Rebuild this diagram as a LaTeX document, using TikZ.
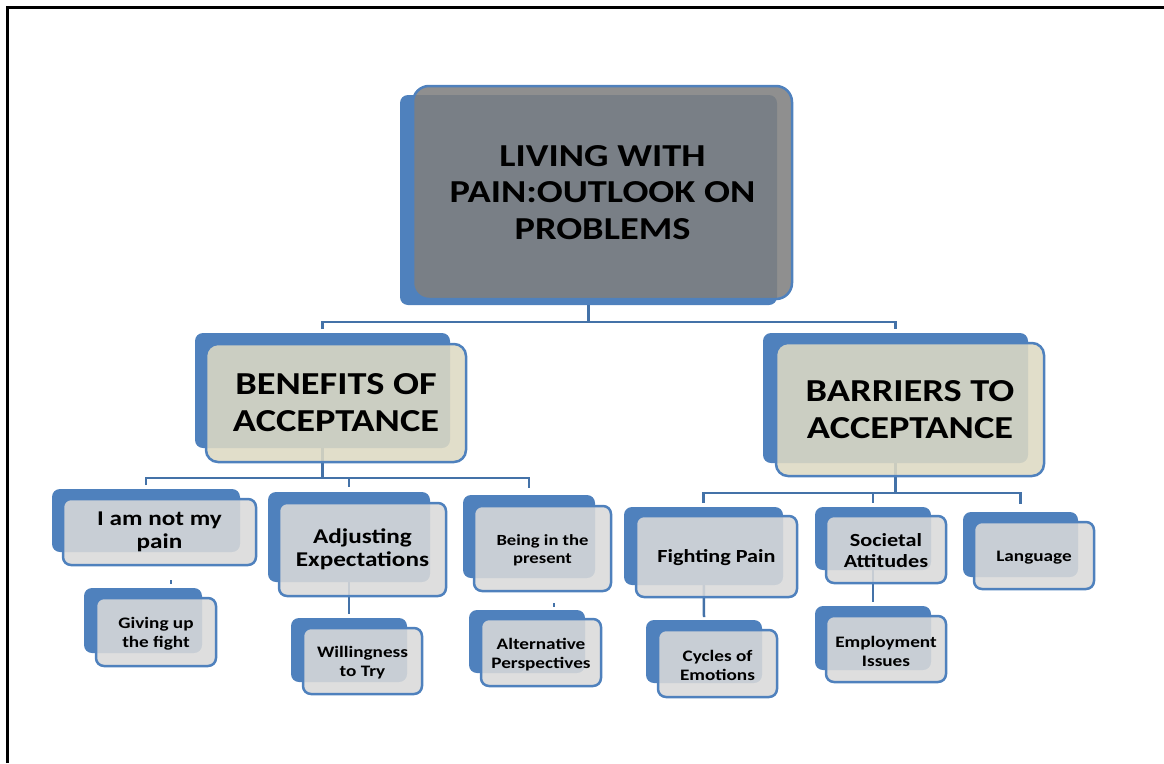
\documentclass[tikz,border=0pt]{standalone}
\usepackage{fontspec}
\setmainfont{Carlito}[FakeStretch=1.2]
\usetikzlibrary{fit}
\pgfdeclarelayer{background}
\pgfsetlayers{background,main}
\definecolor{boxblue}{HTML}{4F81BD}
\definecolor{linkblue}{HTML}{4472A8}
\definecolor{topgray}{HTML}{7F7F7F}
\definecolor{tanfill}{HTML}{DDD9C3}
\definecolor{lgray}{HTML}{D9D9D9}
\newcommand\dualbox[6]{%
  \node[back, fit={#2}] (#1B) {};
  \node[#4, fit={#3}] (#1) {};
  \node[#5] (#1T) at (#1.center) {#6};
}
\begin{document}
\begin{tikzpicture}[x=1pt,y=-1pt,
  back/.style={fill=boxblue, draw=none, inner sep=0pt, outer sep=0pt, rounded corners=8pt},
  front/.style={draw=boxblue, line width=2.5pt, fill opacity=0.88,
    inner sep=0pt, outer sep=0pt, rounded corners=8pt},
  topbox/.style={front, fill=topgray, rounded corners=16pt},
  catbox/.style={front, fill=tanfill, rounded corners=12pt},
  lbox/.style={front, fill=lgray},
  lbl/.style={align=center, text=black, inner sep=0pt},
  toptext/.style={lbl, font=\bfseries\fontsize{32}{36.5}\selectfont},
  cattext/.style={lbl, font=\bfseries\fontsize{32}{37}\selectfont},
  midtext/.style={lbl, font=\bfseries\fontsize{21}{23.5}\selectfont},
  medtext/.style={lbl, yshift=-1pt, font=\bfseries\fontsize{18.5}{21}\selectfont},
  smalltext/.style={lbl, yshift=-2pt, font=\bfseries\fontsize{16}{19}\selectfont},
  tinytext/.style={lbl, yshift=-2pt, font=\bfseries\fontsize{15.5}{18}\selectfont},
  conn/.style={draw=linkblue, line width=2.5pt},
  frame/.style={draw=black, line width=3pt}
]
\useasboundingbox (0,0) rectangle (1164,763);
\draw[frame] (7.5,763) -- (7.5,7.5) -- (1164,7.5);

% top
\dualbox{main}{(400,95) (777,305)}{(413,86) (792,299)}{topbox}{toptext}{LIVING WITH\\PAIN:OUTLOOK ON\\PROBLEMS}
% level 1
\dualbox{ben}{(195,333) (450,448)}{(206,344) (466,462)}{catbox}{cattext}{BENEFITS OF\\ACCEPTANCE}
\dualbox{bar}{(763,333) (1028,463)}{(776,343) (1044,476)}{catbox}{cattext}{BARRIERS TO\\ACCEPTANCE}
% level 2
\dualbox{pain}{(52,489) (240,552)}{(63,499) (256,565)}{lbox}{midtext}{I am not my\\pain}
\dualbox{adj}{(268,492) (430,582)}{(279,503) (446,596)}{lbox}{midtext}{Adjusting\\Expectations}
\dualbox{pres}{(463,495) (595,578)}{(474,506) (611,591)}{lbox}{tinytext}{Being in the\\present}
\dualbox{fig}{(624,507) (783,585)}{(636,516) (797,597)}{lbox}{medtext}{Fighting Pain}
\dualbox{soc}{(815,507) (931,570)}{(826,516) (946,583)}{lbox}{medtext}{Societal\\Attitudes}
\dualbox{lang}{(963,512) (1078,577)}{(974,522) (1094,589)}{lbox}{smalltext}{Language}
% level 3
\dualbox{give}{(84,588) (202,653)}{(96,598) (216,666)}{lbox}{smalltext}{Giving up\\the fight}
\dualbox{will}{(291,618) (407,682)}{(303,628) (422,694)}{lbox}{smalltext}{Willingness\\to Try}
\dualbox{alt}{(469,610) (585,673)}{(481,619) (601,686)}{lbox}{smalltext}{Alternative\\Perspectives}
\dualbox{cyc}{(646,620) (762,683)}{(658,630) (777,697)}{lbox}{smalltext}{Cycles of\\Emotions}
\dualbox{emp}{(815,606) (931,670)}{(826,616) (946,682)}{lbox}{smalltext}{Employment\\Issues}

\coordinate (d1) at (171,580);
\coordinate (d2) at (554,603);

\begin{pgfonlayer}{background}
\draw[conn] (mainB.center) -- (mainB.center |- 0,322) coordinate (t0);
\draw[conn] ([yshift=4pt]benB.north) -- (benB.north |- t0) -- (barB.north |- t0) -- ([yshift=4pt]barB.north);
\draw[conn] (benB.center) -- (benB.center |- 0,478) coordinate (t1);
\draw[conn] ([yshift=4pt]painB.north) -- (painB.north |- t1) -- (presB.north |- t1) -- ([yshift=7pt]presB.north);
\draw[conn] (adjB.north |- t1) -- ([yshift=5pt]adjB.north);
\draw[conn] (barB.center) -- (barB.center |- 0,493) coordinate (t2);
\draw[conn] ([yshift=4pt]figB.north) -- (figB.north |- t2) -- (langB.north |- t2) -- ([yshift=8pt]langB.north);
\draw[conn] (socB.north |- t2) -- ([yshift=4pt]socB.north);
\draw[conn] (adjB.center) -- ([yshift=4pt]willB.north);
\draw[conn] (figB.center) -- ([yshift=3pt]cycB.north);
\draw[conn] (socB.center) -- ([yshift=4pt]empB.north);
\end{pgfonlayer}
\draw[conn] (d1) -- ++(0,4);
\draw[conn] (d2) -- ++(0,4);
\end{tikzpicture}
\end{document}
